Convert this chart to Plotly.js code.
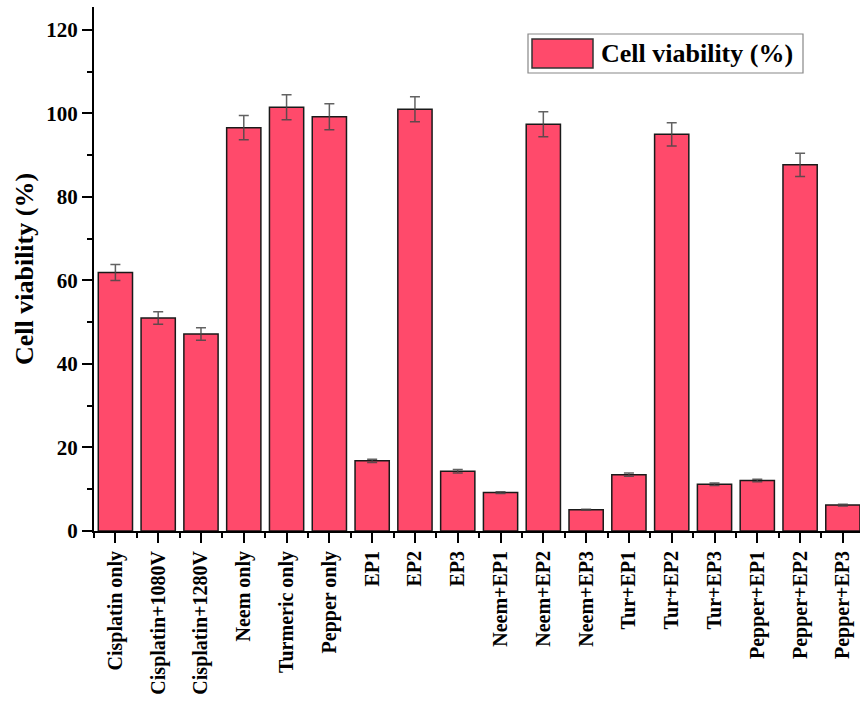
<!DOCTYPE html>
<html>
<head>
<meta charset="utf-8">
<script src="https://cdn.plot.ly/plotly-3.0.1.min.js"></script>
<style>html,body{margin:0;padding:0;background:#fff;}#chart{width:860px;height:702px;}</style>
</head>
<body>
<div id="chart"></div>
<script>
const categories = ["Cisplatin only","Cisplatin+1080V","Cisplatin+1280V","Neem only","Turmeric only","Pepper only","EP1","EP2","EP3","Neem+EP1","Neem+EP2","Neem+EP3","Tur+EP1","Tur+EP2","Tur+EP3","Pepper+EP1","Pepper+EP2","Pepper+EP3"];
const viability = [61.9, 51.0, 47.2, 96.6, 101.5, 99.2, 16.8, 101.0, 14.3, 9.2, 97.4, 5.1, 13.5, 95.0, 11.2, 12.1, 87.7, 6.2];
const errors = [1.9, 1.5, 1.5, 2.9, 3.0, 3.1, 0.4, 3.0, 0.4, 0.2, 3.0, 0.1, 0.4, 2.8, 0.3, 0.3, 2.8, 0.2];
const yTicks = [0, 20, 40, 60, 80, 100, 120];
const seriesName = "Cell viability (%)";

const positions = categories.map((c, i) => i);
const serif = "Liberation Serif";
const barColor = "rgb(255,74,107)";

const trace = {
  type: "bar",
  x: positions,
  y: viability,
  name: seriesName,
  width: 0.8,
  marker: {color: barColor, line: {color: "#1a1a1a", width: 1.5}},
  error_y: {type: "data", array: errors, visible: true, color: "rgba(70,70,70,0.85)", thickness: 1.5, width: 5},
  showlegend: false,
  hovertemplate: "%{text}: %{y}<extra></extra>",
  text: categories,
  textposition: "none"
};

// plot area in pixels: x 94..860, y 7..531
const L = 94, R = 860, T = 7, B = 531;
const px = v => (v - L) / (R - L);
const py = v => (B - v) / (B - T);

const layout = {
  width: 860, height: 702,
  margin: {l: L, r: 860 - R, t: T, b: 702 - B, pad: 0},
  paper_bgcolor: "#fff", plot_bgcolor: "#fff",
  font: {family: serif, color: "#000"},
  xaxis: {
    range: [-0.5, 17.4],
    tickmode: "array", tickvals: positions, ticktext: categories,
    tickangle: -90,
    ticks: "outside", ticklen: 10, tickwidth: 2, tickcolor: "#000",
    minor: {tick0: 0.5, dtick: 1, ticks: "outside", ticklen: 5, tickwidth: 2, tickcolor: "#000"},
    showline: true, linecolor: "#000", linewidth: 2,
    showgrid: false, zeroline: false,
    tickfont: {family: serif, size: 20, weight: "bold", color: "#000"},
    fixedrange: true
  },
  yaxis: {
    range: [0, 125.5],
    tickmode: "array", tickvals: yTicks, ticktext: yTicks.map(String),
    ticks: "outside", ticklen: 10, tickwidth: 2, tickcolor: "#000",
    minor: {tick0: 0, dtick: 10, ticks: "outside", ticklen: 5, tickwidth: 2, tickcolor: "#000"},
    showline: true, linecolor: "#000", linewidth: 2,
    showgrid: false, zeroline: false,
    tickfont: {family: serif, size: 21, weight: "bold", color: "#000"},
    title: {text: seriesName, font: {family: serif, size: 26, weight: "bold", color: "#000"}, standoff: 5},
    fixedrange: true
  },
  shapes: [
    {type: "rect", xref: "paper", yref: "paper", x0: px(528), x1: px(803), y0: py(73), y1: py(34),
     line: {color: "#888", width: 1.2}, fillcolor: "rgba(255,255,255,0)"},
    {type: "rect", xref: "paper", yref: "paper", x0: px(532), x1: px(593), y0: py(68), y1: py(39),
     line: {color: "#333", width: 1.5}, fillcolor: barColor}
  ],
  annotations: [
    {xref: "paper", yref: "paper", x: px(599), y: py(54), xanchor: "left", yanchor: "middle",
     text: seriesName, showarrow: false,
     font: {family: serif, size: 26, weight: "bold", color: "#000"}}
  ]
};

Plotly.newPlot("chart", [trace], layout, {displayModeBar: false, staticPlot: true});
</script>
</body>
</html>
